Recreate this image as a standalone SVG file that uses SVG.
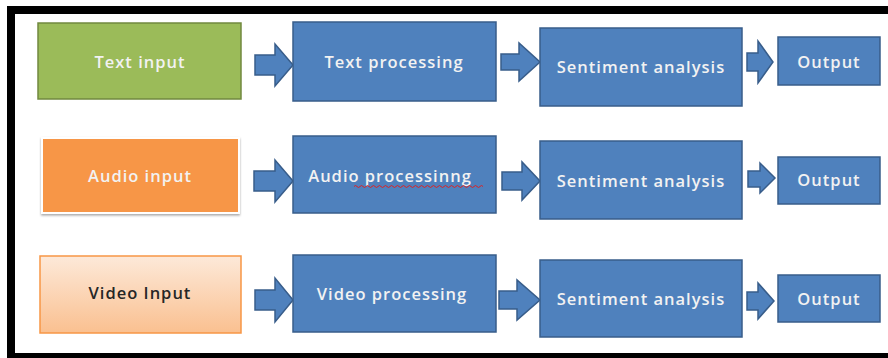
<svg xmlns="http://www.w3.org/2000/svg" width="888" height="358" viewBox="0 0 888 358">
<defs>
<linearGradient id="peach" x1="0" y1="0" x2="0" y2="1">
<stop offset="0" stop-color="#FDE9D9"/>
<stop offset="1" stop-color="#FAC090"/>
</linearGradient>
<filter id="sh" x="-10%" y="-10%" width="120%" height="130%">
<feDropShadow dx="0" dy="1.5" stdDeviation="1.2" flood-color="#000" flood-opacity="0.35"/>
</filter>
<style>
.blue{fill:#4F81BD;stroke:#385D8A;stroke-width:1.5}
.arr{fill:#4F81BD;stroke:#385D8A;stroke-width:1.5;stroke-linejoin:miter}
.t{font-family:"Open Sans","Liberation Sans",sans-serif;font-size:16.5px;font-weight:600;fill:#F2F2F2;text-anchor:middle;letter-spacing:1px}
.dark{fill:#262626}
</style>
</defs>
<rect width="888" height="358" fill="#FFFFFF"/>
<g id="frame">
<rect x="7" y="6" width="881" height="8" fill="#000"/>
<rect x="7" y="6" width="8" height="352" fill="#000"/>
<rect x="7" y="353" width="881" height="5" fill="#000"/>
</g>
<g id="connectors">
<polygon class="arr" points="255,55 275,55 275,44 293,65 275,86 275,75 255,75"/>
<polygon class="arr" points="501,54 519,54 519,43 540,62 519,81 519,70 501,70"/>
<polygon class="arr" points="747,53 758,53 758,41 773,62 758,83 758,71 747,71"/>
<polygon class="arr" points="254,171 275,171 275,160 293,181 275,202 275,191 254,191"/>
<polygon class="arr" points="502,172 522,172 522,162 540,181 522,200 522,190 502,190"/>
<polygon class="arr" points="748,171 760,171 760,163 775,178 760,193 760,187 748,187"/>
<polygon class="arr" points="255,290 275,290 275,278 293,300 275,322 275,310 255,310"/>
<polygon class="arr" points="499,291 517,291 517,280 540,300 517,320 517,309 499,309"/>
<polygon class="arr" points="747,292 758,292 758,283 774,301 758,319 758,310 747,310"/>
</g>
<g id="text-input">
<rect x="38" y="23" width="203" height="76" fill="#9BBB59" stroke="#71893F" stroke-width="1.5"/>
<text class="t" x="140" y="68">Text input</text>
</g>
<g id="text-processing">
<rect class="blue" x="293" y="22" width="203" height="79"/>
<text class="t" x="394" y="68">Text processing</text>
</g>
<g id="sentiment-1">
<rect class="blue" x="540" y="28" width="202" height="78"/>
<text class="t" x="641" y="73">Sentiment analysis</text>
</g>
<g id="output-1">
<rect class="blue" x="778" y="37" width="102" height="48"/>
<text class="t" x="829" y="68">Output</text>
</g>
<g id="audio-input">
<rect x="42" y="138" width="197" height="75" fill="#F79646" stroke="#FFFFFF" stroke-width="2" filter="url(#sh)"/>
<text class="t" x="140" y="182">Audio input</text>
</g>
<g id="audio-processing">
<rect class="blue" x="293" y="136" width="203" height="77"/>
<text class="t" x="390" y="182">Audio processinng</text>
<path d="M354,186.5 q1.5,-2 3,0 t3,0 t3,0 t3,0 t3,0 t3,0 t3,0 t3,0 t3,0 t3,0 t3,0 t3,0 t3,0 t3,0 t3,0 t3,0 t3,0 t3,0 t3,0 t3,0 t3,0 t3,0 t3,0 t3,0 t3,0 t3,0 t3,0 t3,0 t3,0 t3,0 t3,0 t3,0 t3,0 t3,0 t3,0 t3,0 t3,0 t3,0 t3,0 t3,0 t3,0 t3,0 t3,0" fill="none" stroke="#E02020" stroke-width="1"/>
</g>
<g id="sentiment-2">
<rect class="blue" x="540" y="141" width="202" height="78"/>
<text class="t" x="641" y="187">Sentiment analysis</text>
</g>
<g id="output-2">
<rect class="blue" x="778" y="157" width="102" height="47"/>
<text class="t" x="829" y="186">Output</text>
</g>
<g id="video-input">
<rect x="40" y="256" width="201" height="77" fill="url(#peach)" stroke="#F79646" stroke-width="1.5"/>
<text class="t dark" x="140" y="299">Video Input</text>
</g>
<g id="video-processing">
<rect class="blue" x="293" y="255" width="203" height="77"/>
<text class="t" x="392" y="300">Video processing</text>
</g>
<g id="sentiment-3">
<rect class="blue" x="540" y="260" width="202" height="77"/>
<text class="t" x="641" y="305">Sentiment analysis</text>
</g>
<g id="output-3">
<rect class="blue" x="778" y="275" width="102" height="47"/>
<text class="t" x="829" y="305">Output</text>
</g>
</svg>
